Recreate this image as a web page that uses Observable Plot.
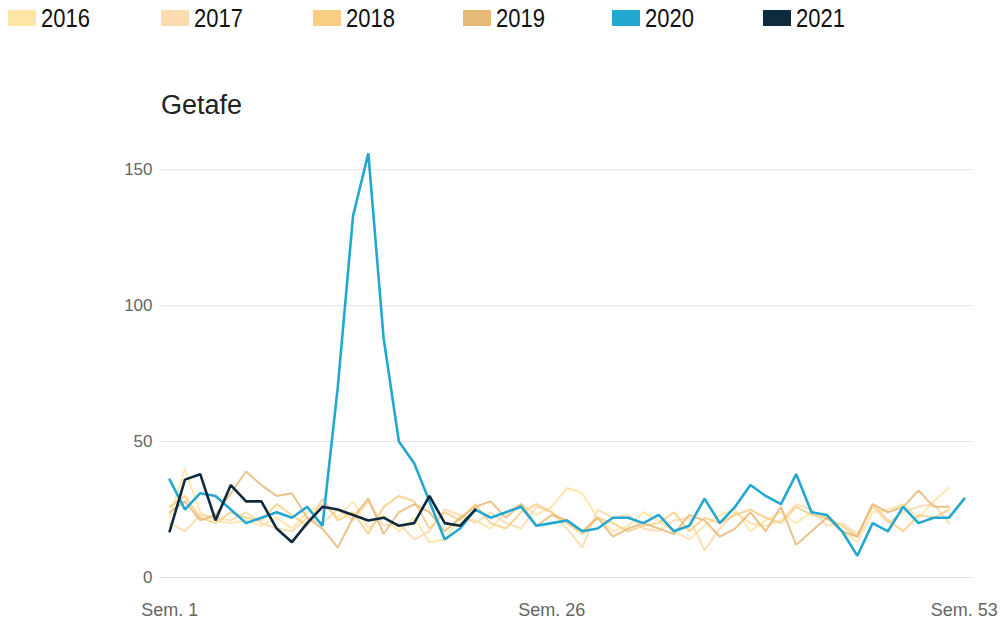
<!DOCTYPE html>
<html>
<head>
<meta charset="utf-8">
<script src="https://cdn.jsdelivr.net/npm/d3@7"></script>
<script src="https://cdn.jsdelivr.net/npm/@observablehq/plot@0.6"></script>
<style>
  html, body { margin: 0; padding: 0; background: #fff; }
  #wrap { position: relative; width: 1002px; height: 625px; overflow: hidden; }
  #legend { position: absolute; left: 0; top: 0; width: 1002px; height: 40px; font-family: "Liberation Sans", Arial, sans-serif; font-size: 25px; color: #111; }
  .item { position: absolute; top: 3px; height: 30px; display: flex; align-items: center; }
  .sw { width: 28px; height: 16px; margin-right: 5px; }
  .item span { display: inline-block; transform: scaleX(0.88); transform-origin: left center; }
  #title { position: absolute; left: 161px; top: 90px; font-family: "Liberation Sans", Arial, sans-serif; font-size: 27px; color: #222; }
  #chart { position: absolute; left: 0; top: 130px; }
</style>
</head>
<body>
<div id="wrap">
  <div id="legend"></div>
  <div id="title">Getafe</div>
  <div id="chart"></div>
</div>
<script>
const years = ["2016", "2017", "2018", "2019", "2020", "2021"];
const colors = ["#FDE5A6", "#FCDCAF", "#F9CE82", "#E6B977", "#22A8D1", "#0D2B3D"];
const xTicks = [1, 26, 53];
const yTicks = [0, 50, 100, 150];

const v2016 = [22, 40, 24, 21, 20, 21, 19, 22, 18, 24, 27, 22, 28, 18, 23, 17, 22, 13, 14, 22, 21, 18, 24, 27, 23, 26, 33, 31, 22, 17, 19, 24, 21, 17, 14, 19, 23, 25, 17, 21, 24, 20, 24, 22, 17, 13, 24, 25, 27, 22, 28, 33];
const v2017 = [20, 17, 23, 22, 21, 24, 20, 18, 17, 22, 20, 25, 21, 28, 19, 20, 14, 17, 25, 23, 20, 24, 20, 18, 26, 24, 18, 11, 25, 22, 23, 18, 17, 21, 22, 10, 18, 24, 20, 19, 21, 27, 25, 19, 20, 16, 26, 20, 24, 26, 27, 20];
const v2018 = [26, 30, 22, 20, 24, 22, 21, 27, 23, 19, 29, 21, 24, 16, 26, 30, 28, 18, 24, 21, 27, 20, 18, 24, 27, 24, 20, 16, 22, 20, 17, 19, 20, 24, 17, 22, 20, 23, 25, 22, 20, 26, 23, 22, 19, 15, 27, 21, 17, 23, 22, 25];
const v2019 = [24, 28, 21, 23, 31, 39, 34, 30, 31, 22, 18, 11, 22, 29, 16, 24, 27, 24, 17, 22, 26, 28, 22, 27, 19, 23, 21, 17, 22, 15, 18, 20, 18, 16, 23, 21, 15, 18, 24, 17, 26, 12, 17, 22, 17, 15, 27, 24, 26, 32, 26, 26];
const v2020 = [36, 25, 31, 30, 25, 20, 22, 24, 22, 26, 19, 70, 133, 156, 88, 50, 42, 28, 14, 18, 25, 22, 24, 26, 19, 20, 21, 17, 18, 22, 22, 20, 23, 17, 19, 29, 20, 26, 34, 30, 27, 38, 24, 23, 17, 8, 20, 17, 26, 20, 22, 22, 29];
const v2021 = [17, 36, 38, 21, 34, 28, 28, 18, 13, 20, 26, 25, 23, 21, 22, 19, 20, 30, 20, 19, 25];

const series = [v2016, v2017, v2018, v2019, v2020, v2021];
const rows = series.flatMap((vals, i) => vals.map((v, k) => ({year: years[i], week: k + 1, value: v})));

// legend
const legend = document.getElementById("legend");
const lx = [8, 161, 313, 463, 612, 763];
years.forEach((y, i) => {
  const it = document.createElement("div");
  it.className = "item";
  it.style.left = lx[i] + "px";
  const sw = document.createElement("div");
  sw.className = "sw";
  sw.style.background = colors[i];
  const t = document.createElement("span");
  t.textContent = y;
  it.appendChild(sw);
  it.appendChild(t);
  legend.appendChild(it);
});

const widths = {"2016": 2, "2017": 2, "2018": 2, "2019": 2, "2020": 2.6, "2021": 2.6};
const opac = {"2016": 0.9, "2017": 0.9, "2018": 0.85, "2019": 0.85, "2020": 1, "2021": 1};

const chart = Plot.plot({
  width: 1002,
  height: 495,
  marginLeft: 160,
  marginRight: 29,
  marginTop: 12,
  marginBottom: 48,
  style: {fontFamily: "'Liberation Sans', Arial, sans-serif", background: "transparent"},
  x: {domain: [0.4, 53.6]},
  y: {domain: [0, 160]},
  color: {domain: years, range: colors},
  marks: [
    Plot.gridY(yTicks, {stroke: "#e3e3e3", strokeOpacity: 1, strokeWidth: 1}),
    Plot.axisY(yTicks, {tickSize: 0, tickPadding: 8, fontSize: 17, fill: "#666", label: null}),
    Plot.axisX(xTicks, {tickSize: 0, tickPadding: 26, fontSize: 18, fill: "#666", label: null, tickFormat: d => "Sem. " + d}),
    ...years.map(y => Plot.line(rows.filter(r => r.year === y), {
      x: "week", y: "value", stroke: "year",
      strokeWidth: widths[y], strokeOpacity: opac[y], strokeLinejoin: "miter"
    }))
  ]
});
document.getElementById("chart").appendChild(chart);
</script>
</body>
</html>
